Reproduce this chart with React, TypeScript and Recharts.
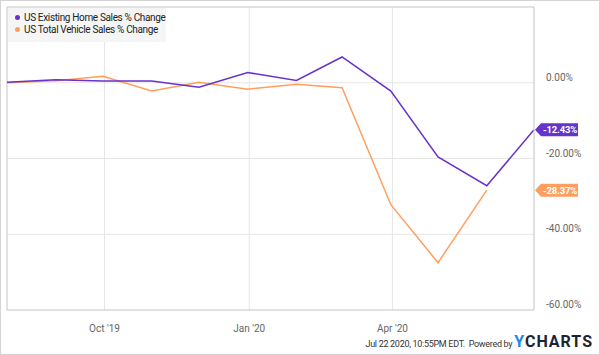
import React from "react";
import {
  LineChart,
  Line,
  XAxis,
  YAxis,
  CartesianGrid,
  ReferenceLine,
  ReferenceDot,
} from "recharts";

// month-end dates (YCharts plots monthly data on the last day of the month)
const MONTHS = [
  "2019-07-31", "2019-08-31", "2019-09-30", "2019-10-31", "2019-11-30", "2019-12-31",
  "2020-01-31", "2020-02-29", "2020-03-31", "2020-04-30", "2020-05-31", "2020-06-30",
];

const HOME_SALES = [0.1, 0.8, 0.45, 0.45, -1.2, 2.7, 0.6, 6.8, -2.2, -19.6, -27.2, -12.43];
const VEHICLE_SALES = [0.0, 0.5, 1.7, -2.2, 0.1, -1.7, -0.4, -1.3, -32.2, -47.5, -28.37, null];

const X_TICKS = ["2019-10-01", "2020-01-01", "2020-04-01"];
const X_TICK_LABELS = ["Oct '19", "Jan '20", "Apr '20"];
const Y_TICKS = [0, -20, -40, -60];
const Y_DOMAIN = [-60, 20];

const SERIES_NAMES = ["US Existing Home Sales % Change", "US Total Vehicle Sales % Change"];
const PURPLE = "#6633cc";
const ORANGE = "#ff9f5f";
const FONT = "Roboto, 'Noto Sans', sans-serif";

const ts = (d: string) => Date.parse(d + "T00:00:00Z");

const data = MONTHS.map((m, i) => ({
  t: ts(m),
  home: HOME_SALES[i],
  vehicle: VEHICLE_SALES[i],
}));

const xStart = ts(MONTHS[0]);
const xEnd = ts(MONTHS[MONTHS.length - 1]);
const xTicks = X_TICKS.map(ts);

const lastOf = (arr: (number | null)[]) => {
  for (let i = arr.length - 1; i >= 0; i--) if (arr[i] != null) return arr[i] as number;
  return 0;
};

function XTick(props: any) {
  const { x, y, payload } = props;
  const idx = xTicks.indexOf(payload.value);
  return (
    <text x={x} y={y + 14} textAnchor="middle" fontSize={10} fill="#666" fontFamily={FONT}>
      {X_TICK_LABELS[idx]}
    </text>
  );
}

function YTick(props: any) {
  const { x, y, payload } = props;
  return (
    <text x={x + 4} y={y - 2} textAnchor="start" fontSize={10} fill="#666" fontFamily={FONT}>
      {`${payload.value.toFixed(2)}%`}
    </text>
  );
}

function tagShape(color: string, value: number) {
  return (props: any) => {
    const { cx, cy } = props;
    const h = 6.5;
    return (
      <g>
        <polygon
          points={`${cx + 1},${cy} ${cx + 7},${cy - h} ${cx + 44},${cy - h} ${cx + 44},${cy + h} ${cx + 7},${cy + h}`}
          fill={color}
        />
        <text
          x={cx + 26}
          y={cy + 3.5}
          textAnchor="middle"
          fontSize={9.5}
          fontWeight="bold"
          fill="#fff"
          fontFamily={FONT}
          letterSpacing={-0.2}
        >
          {`${value.toFixed(2)}%`}
        </text>
      </g>
    );
  };
}

export default function App() {
  const homeLast = lastOf(HOME_SALES);
  const vehicleLast = lastOf(VEHICLE_SALES);

  return (
    <div
      style={{
        position: "fixed",
        left: 0,
        top: 0,
        width: 600,
        height: 355,
        boxSizing: "border-box",
        border: "1px solid #d4d4d4",
        background: "#fff",
        fontFamily: FONT,
      }}
    >
      <LineChart width={598} height={353} data={data} margin={{ top: 6, right: 0, left: 6, bottom: 0 }}>
        <CartesianGrid stroke="#e6e6e6" horizontal vertical />
        <XAxis
          dataKey="t"
          type="number"
          scale="time"
          domain={[xStart, xEnd]}
          ticks={xTicks}
          tick={<XTick />}
          tickLine={false}
          axisLine={{ stroke: "#d0d0d0" }}
          height={44}
        />
        <YAxis
          orientation="right"
          type="number"
          domain={Y_DOMAIN}
          ticks={Y_TICKS}
          tick={<YTick />}
          tickLine={false}
          axisLine={{ stroke: "#d0d0d0" }}
          width={65}
        />
        <ReferenceLine y={Y_DOMAIN[1]} stroke="#d0d0d0" />
        <ReferenceLine x={xStart} stroke="#d0d0d0" />
        <Line
          dataKey="vehicle"
          stroke={ORANGE}
          strokeWidth={1.5}
          dot={false}
          isAnimationActive={false}
          connectNulls={false}
        />
        <Line
          dataKey="home"
          stroke={PURPLE}
          strokeWidth={1.5}
          dot={false}
          isAnimationActive={false}
        />
        <ReferenceDot x={xEnd} y={homeLast} ifOverflow="visible" shape={tagShape(PURPLE, homeLast)} />
        <ReferenceDot x={xEnd} y={vehicleLast} ifOverflow="visible" shape={tagShape(ORANGE, vehicleLast)} />
      </LineChart>

      {/* legend */}
      <div
        style={{
          position: "absolute",
          left: 7,
          top: 7,
          width: 158,
          boxSizing: "border-box",
          padding: "4px 0 7px 7px",
          background: "#f5f5f5",
          fontSize: 10,
          lineHeight: "11.5px",
          color: "#222",
          whiteSpace: "nowrap",
          letterSpacing: -0.35,
        }}
      >
        {SERIES_NAMES.map((name, i) => (
          <div key={name} style={{ display: "flex", alignItems: "center", gap: 4 }}>
            <span
              style={{
                width: 5,
                height: 5,
                flexShrink: 0,
                borderRadius: "50%",
                background: i === 0 ? PURPLE : ORANGE,
                display: "inline-block",
              }}
            />
            <span>{name}</span>
          </div>
        ))}
      </div>

      {/* footer */}
      <div
        style={{
          position: "absolute",
          right: 6,
          bottom: 3,
          display: "flex",
          alignItems: "baseline",
          fontSize: 9,
          color: "#333",
        }}
      >
        <span style={{ letterSpacing: -0.3 }}>Jul 22 2020, 10:55PM EDT.&nbsp; Powered by&nbsp;</span>
        <span style={{ fontSize: 16, fontWeight: 700, letterSpacing: 1 }}>
          <span style={{ color: "#1e88e5" }}>Y</span>
          <span style={{ color: "#1c2433" }}>CHARTS</span>
        </span>
      </div>
    </div>
  );
}
